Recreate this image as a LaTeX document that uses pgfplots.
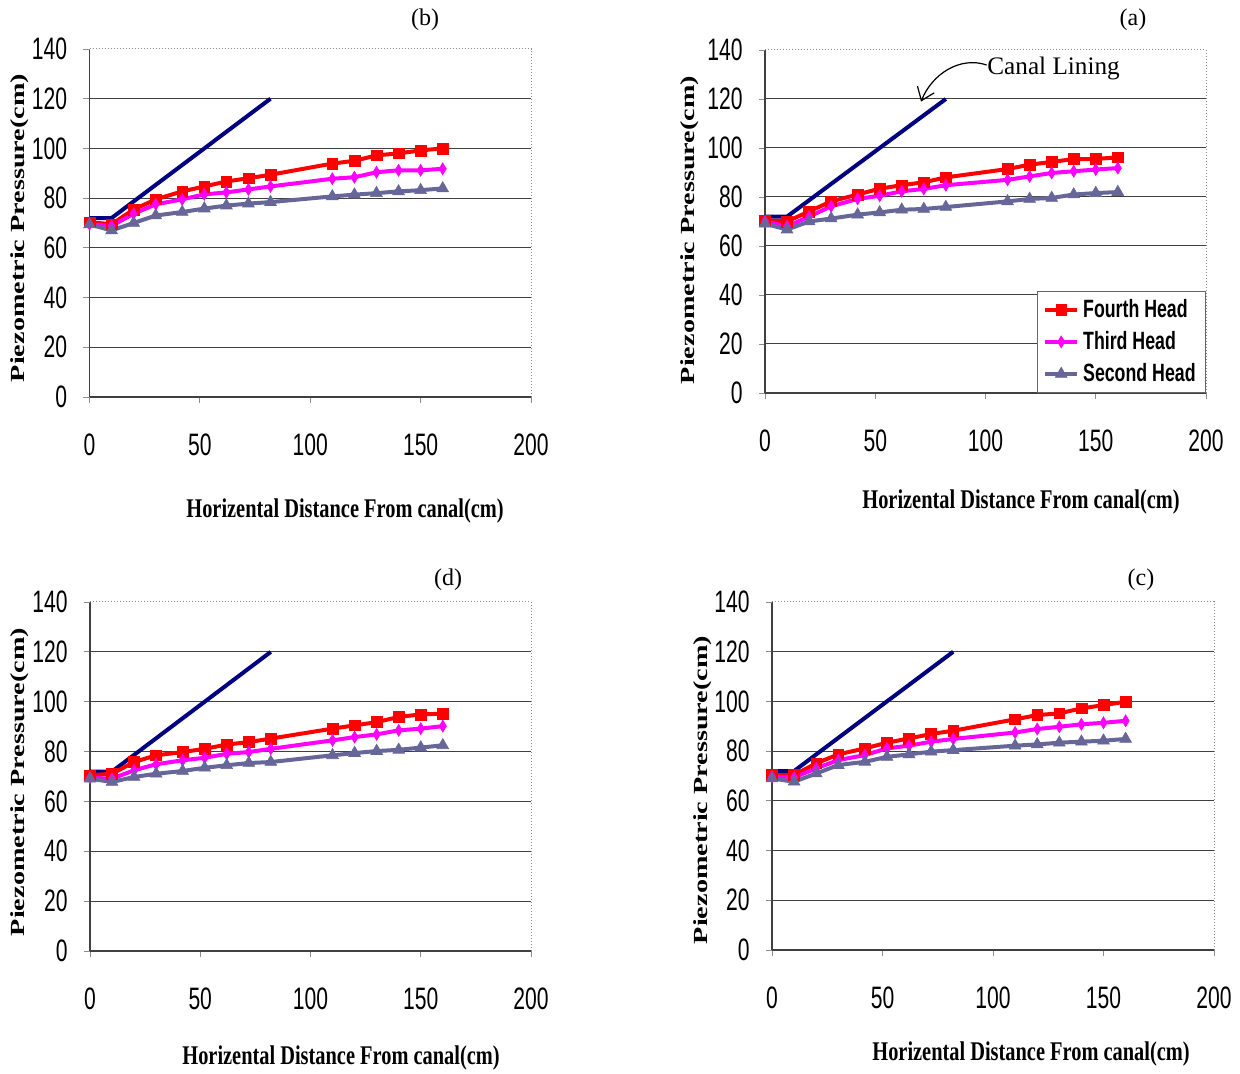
\documentclass[border=0pt]{standalone}
\usepackage{fontspec}
\usepackage{pgfplots}
\usepackage{pgfplotstable}
\pgfplotsset{compat=1.18}
\usetikzlibrary{arrows.meta}
\setmainfont{Liberation Serif}
\newfontfamily\tickfont[FakeStretch=0.68]{Liberation Sans}
\newfontfamily\xlabfont[FakeStretch=0.755]{Liberation Serif}
\newfontfamily\ylabfont[FakeStretch=1.41]{Liberation Serif}
\newfontfamily\legfont[FakeStretch=0.71]{Liberation Sans}
\definecolor{lining}{RGB}{0,0,128}
\definecolor{fourth}{RGB}{255,0,0}
\definecolor{third}{RGB}{255,0,255}
\definecolor{second}{RGB}{102,102,153}

% x: horizontal distance (cm); columns: piezometric pressure (cm)
\pgfplotstableread{
x   fourth third second
0   70.3  69.5  69.4
10  69.5  68.8  67.0
20  75.4  73.7  70.0
30  79.5  77.5  73.0
42  82.7  79.5  74.4
52  84.7  81.5  75.8
62  86.7  82.3  77.0
72  88.0  83.5  77.8
82  89.4  84.7  78.4
110 93.9  87.8  80.7
120 95.0  88.4  81.4
130 97.2  90.4  82.0
140 98.0  91.2  82.7
150 99.2  91.2  83.2
160 100.0 91.8  83.9
}\panelb
\pgfplotstableread{
x   fourth third second
0   70.5  70.0  69.1
10  70.0  68.0  66.7
20  74.1  72.0  70.0
30  78.2  76.2  71.2
42  81.0  79.2  72.8
52  83.4  80.5  73.7
62  84.8  82.3  74.8
72  86.0  83.3  75.1
82  88.0  84.8  75.9
110 91.4  87.0  78.2
120 93.2  88.4  79.2
130 94.3  89.8  79.6
140 95.5  90.5  81.0
150 95.5  91.2  81.6
160 96.2  91.8  82.0
}\panela
\pgfplotstableread{
x   fourth third second
0   70.5  69.5  69.1
10  71.1  69.1  67.8
20  75.8  72.5  69.8
30  78.5  74.9  71.1
42  79.8  76.5  72.2
52  81.1  77.5  73.5
62  82.8  79.1  74.5
72  83.8  79.8  75.4
82  85.2  81.1  75.8
110 89.2  84.5  78.5
120 90.5  85.8  79.4
130 91.8  86.9  80.2
140 93.9  88.5  80.7
150 94.9  89.2  81.6
160 95.2  90.2  82.5
}\paneld
\pgfplotstableread{
x   fourth third second
0   70.4  69.7  69.0
10  70.4  69.4  67.7
20  75.1  73.1  71.0
30  78.7  76.4  74.4
42  81.1  78.4  75.7
52  83.4  81.1  77.7
62  85.1  82.2  78.7
72  86.9  83.8  79.8
82  88.2  84.9  80.4
110 92.8  87.5  82.2
120 94.5  88.9  82.7
130 95.2  89.8  83.4
140 97.2  90.8  83.8
150 98.5  91.4  84.2
160 99.9  92.2  84.9
}\panelc

\tikzset{frame/.style={black!45, densely dotted, line width=0.5pt}}
\pgfplotsset{
  panel/.style={
    scale only axis, anchor=south west, clip=false,
    xmin=0, xmax=200, ymin=0, ymax=140,
    xtick={0,50,...,200}, ytick={0,20,...,120},
    extra y ticks={140}, extra y tick style={grid=none},
    axis x line*=bottom, axis y line*=left,
    axis line style={-, black!75, line width=0.6pt},
    ymajorgrids, grid style={black!75, line width=0.5pt},
    tick align=outside, major tick length=3pt,
    tick style={black!45, line width=0.4pt},
    /pgf/number format/assume math mode=true,
    ticklabel style={font=\tickfont\fontsize{15.5}{16}\selectfont, inner sep=0pt},
    xticklabel style={anchor=center, yshift=-21pt},
    yticklabel style={anchor=east, xshift=-8pt},
    legend style={at={(rel axis cs:1,0)}, anchor=south east, draw=black!60,
      font=\legfont\bfseries\fontsize{12.5}{14}\selectfont,
      inner xsep=3pt, inner ysep=2pt, row sep=1.5pt},
    legend cell align=left,
    legend image code/.code={\draw[mark repeat=2, mark phase=2]
      plot coordinates {(0cm,0cm) (0.28cm,0cm) (0.56cm,0cm)};},
  },
  lin/.style={lining, line width=2pt, forget plot},
  s4/.style={fourth, line width=2pt, mark=square*, mark size=2.7pt, mark options={solid, line width=0.3pt}},
  s3/.style={third, line width=2pt, mark=diamond*, mark size=3pt, mark options={solid, line width=0.3pt, xscale=0.8}},
  s2/.style={second, line width=2pt, mark=triangle*, mark size=3.4pt, mark options={solid, line width=0.3pt}},
}

\begin{document}
\begin{tikzpicture}
\useasboundingbox (0,0) rectangle (620pt,537pt);

% (b) top left
\begin{axis}[panel, at={(44.75pt,338.5pt)}, width=220.75pt, height=174pt]
\draw[frame] (rel axis cs:0,1) -- (rel axis cs:1,1) -- (rel axis cs:1,0);
\addplot[lin] coordinates {(0,72) (10,72) (82,120)};
\addplot[s4] table[x=x, y=fourth] {\panelb};
\addplot[s3] table[x=x, y=third] {\panelb};
\addplot[s2] table[x=x, y=second] {\panelb};
\end{axis}

% (a) top right
\begin{axis}[panel, at={(382.5pt,340.5pt)}, width=220.5pt, height=171.5pt]
\draw[frame] (rel axis cs:0,1) -- (rel axis cs:1,1) -- (rel axis cs:1,0);
\addplot[lin] coordinates {(0,72) (10,72) (82,120)};
\addplot[s4] table[x=x, y=fourth] {\panela};
\addplot[s3] table[x=x, y=third] {\panela};
\addplot[s2] table[x=x, y=second] {\panela};
\legend{Fourth Head, Third Head, Second Head}
\end{axis}

% (d) bottom left
\begin{axis}[panel, at={(45pt,61.5pt)}, width=220.5pt, height=174.5pt]
\draw[frame] (rel axis cs:0,1) -- (rel axis cs:1,1) -- (rel axis cs:1,0);
\addplot[lin] coordinates {(0,72) (10,72) (82,120)};
\addplot[s4] table[x=x, y=fourth] {\paneld};
\addplot[s3] table[x=x, y=third] {\paneld};
\addplot[s2] table[x=x, y=second] {\paneld};
\end{axis}

% (c) bottom right
\begin{axis}[panel, at={(386pt,62pt)}, width=221pt, height=174pt]
\draw[frame] (rel axis cs:0,1) -- (rel axis cs:1,1) -- (rel axis cs:1,0);
\addplot[lin] coordinates {(0,72) (10,72) (82,120)};
\addplot[s4] table[x=x, y=fourth] {\panelc};
\addplot[s3] table[x=x, y=third] {\panelc};
\addplot[s2] table[x=x, y=second] {\panelc};
\end{axis}

% panel tags
\begin{scope}[every node/.style={font=\fontsize{12}{14}\selectfont}]
\node at (212.5pt,527pt) {(b)};
\node at (566.5pt,527pt) {(a)};
\node at (224pt,247pt) {(d)};
\node at (570.5pt,247pt) {(c)};
\end{scope}

% axis titles
\begin{scope}[every node/.style={font=\xlabfont\bfseries\fontsize{13.5}{15}\selectfont}]
\node at (172.5pt,281.5pt) {Horizental Distance From canal(cm)};
\node at (510.5pt,286pt) {Horizental Distance From canal(cm)};
\node at (170.5pt,8pt) {Horizental Distance From canal(cm)};
\node at (515.5pt,10pt) {Horizental Distance From canal(cm)};
\end{scope}
\begin{scope}[every node/.style={rotate=90, font=\ylabfont\bfseries\fontsize{10}{12}\selectfont}]
\node at (10pt,423pt) {Piezometric Pressure(cm)};
\node at (345pt,422pt) {Piezometric Pressure(cm)};
\node at (10pt,146pt) {Piezometric Pressure(cm)};
\node at (351.5pt,142pt) {Piezometric Pressure(cm)};
\end{scope}

% annotation in (a)
\node[font=\fontsize{12.6}{14}\selectfont, anchor=west, inner sep=0pt] at (493.5pt,503pt) {Canal Lining};
\draw[line width=0.6pt, -{Straight Barb[length=6pt, width=9pt]}]
  (493.3pt,504.5pt) .. controls (480pt,509pt) and (466pt,500pt) .. (460.5pt,486.2pt);
\end{tikzpicture}
\end{document}
